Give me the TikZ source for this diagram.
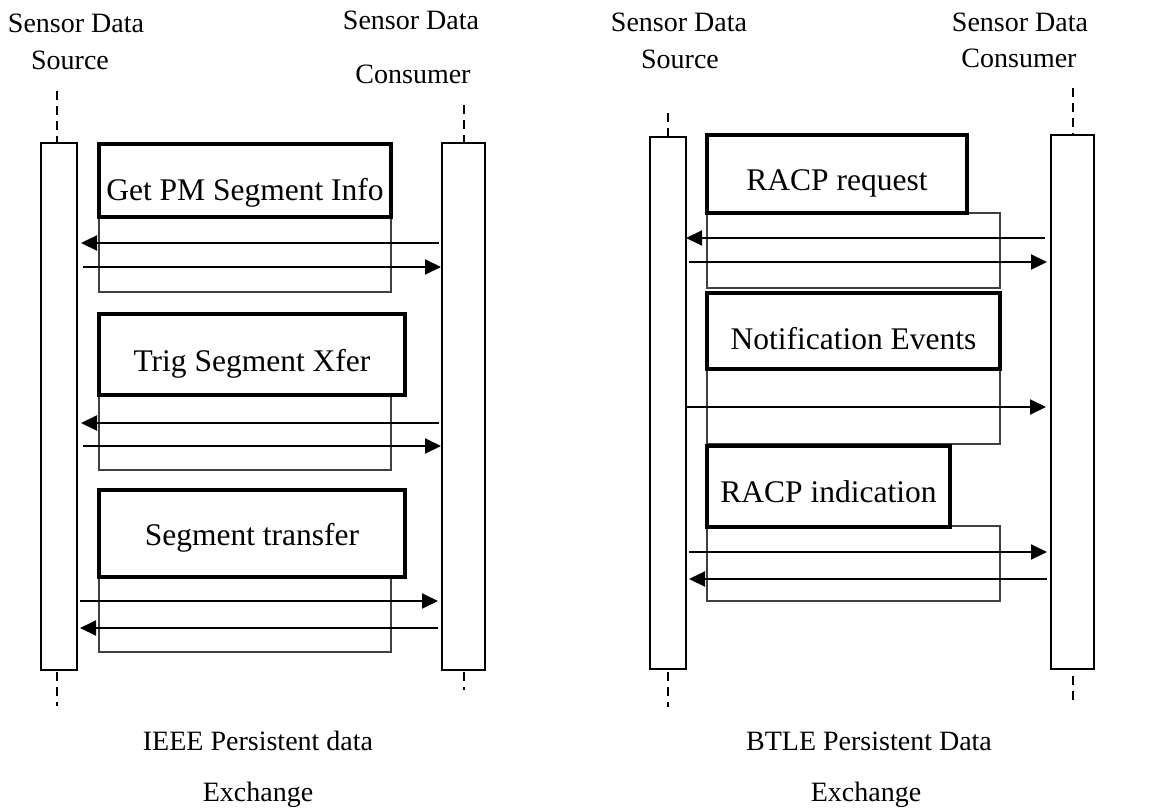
\documentclass[tikz,border=0pt]{standalone}
\usepackage{fontspec}
\setmainfont{Liberation Serif}
\usetikzlibrary{arrows.meta,calc}
\begin{document}
\begin{tikzpicture}[x=1pt,y=-1pt,
  bar/.style={draw, line width=1.8pt, inner sep=0pt, outer sep=0pt},
  life/.style={line width=1.8pt, dash pattern=on 9pt off 6pt},
  opbox/.style={draw, line width=3.2pt, inner sep=0pt, outer sep=0pt, anchor=north west},
  frame/.style={draw=black!75, line width=1.2pt},
  msg/.style={line width=2pt, -{Triangle[length=16pt,width=15pt]}},
  lbl/.style={font=\fontsize{28}{34}\selectfont, inner sep=0pt, anchor=base},
  optext/.style={font=\fontsize{31.5}{36}\selectfont, inner sep=0pt, anchor=base}]
\useasboundingbox (0,0) rectangle (1167,808);

% ---------------- IEEE (left) ----------------
\node[lbl] (tA1) at (76,33) {Sensor Data};
\node[lbl] (tA2) at (70,70) {Source};
\node[lbl] (tA3) at (411,30) {Sensor Data};
\node[lbl] (tA4) at (413,83) {Consumer};

\node[bar, minimum width=36pt, minimum height=527pt] (srcA) at (59,406.5) {};
\node[bar, minimum width=43pt, minimum height=527pt] (conA) at (463.5,406.5) {};
\draw[life] (57,91) -- (57,143);
\draw[life] (57,672) -- (57,706);
\draw[life] (464,105) -- (464,143);
\draw[life] (464,672) -- (464,690);

% op 1
\draw[frame] (99,217) rectangle (391,292);
\node[opbox, minimum width=292pt, minimum height=73pt] (opA1) at (99,144) {};
\node[optext] (xA1) at (245,200) {Get PM Segment Info};
\draw[msg] ($(conA.west |- 0,243)+(-3,0)$) -- ($(srcA.east |- 0,243)+(4,0)$);
\draw[msg] ($(srcA.east |- 0,267)+(6,0)$) -- ($(conA.west |- 0,267)+(-1,0)$);

% op 2
\draw[frame] (99,395) rectangle (391,470);
\node[opbox, minimum width=306pt, minimum height=81pt] (opA2) at (99,314) {};
\node[optext] (xA2) at (252,371) {Trig Segment Xfer};
\draw[msg] ($(conA.west |- 0,423)+(-3,0)$) -- ($(srcA.east |- 0,423)+(4,0)$);
\draw[msg] ($(srcA.east |- 0,446)+(6,0)$) -- ($(conA.west |- 0,446)+(-1,0)$);

% op 3
\draw[frame] (99,577) rectangle (391,652);
\node[opbox, minimum width=306pt, minimum height=87pt] (opA3) at (99,490) {};
\node[optext] (xA3) at (252,545) {Segment transfer};
\draw[msg] ($(srcA.east |- 0,601)+(3,0)$) -- ($(conA.west |- 0,601)+(-4,0)$);
\draw[msg] ($(conA.west |- 0,628)+(-4,0)$) -- ($(srcA.east |- 0,628)+(3,0)$);

\node[lbl] (bA1) at (258,750) {IEEE Persistent data};
\node[lbl] (bA2) at (258,801) {Exchange};

% ---------------- BTLE (right) ----------------
\node[lbl] (tB1) at (679,32) {Sensor Data};
\node[lbl] (tB2) at (680,68) {Source};
\node[lbl] (tB3) at (1020,32) {Sensor Data};
\node[lbl] (tB4) at (1019,67) {Consumer};

\node[bar, minimum width=36pt, minimum height=532pt] (srcB) at (668,403) {};
\node[bar, minimum width=43pt, minimum height=534pt] (conB) at (1072.5,402) {};
\draw[life] (668,113) -- (668,137);
\draw[life] (668,672) -- (668,707);
\draw[life] (1073,88) -- (1073,135);
\draw[life] (1073,676) -- (1073,705);

% op 1
\draw[frame] (707,213) rectangle (1000,288);
\node[opbox, minimum width=260pt, minimum height=78pt] (opB1) at (707,135) {};
\node[optext] (xB1) at (837,190) {RACP request};
\draw[msg] ($(conB.west |- 0,238)+(-6,0)$) -- ($(srcB.east |- 0,238)+(0,0)$);
\draw[msg] ($(srcB.east |- 0,262)+(3,0)$) -- ($(conB.west |- 0,262)+(-4,0)$);

% op 2
\draw[frame] (707,369) rectangle (1000,444);
\node[opbox, minimum width=293pt, minimum height=76pt] (opB2) at (707,293) {};
\node[optext] (xB2) at (853.5,349) {Notification Events};
\draw[msg] ($(srcB.east |- 0,407)+(1,0)$) -- ($(conB.west |- 0,407)+(-5,0)$);

% op 3
\draw[frame] (707,526) rectangle (1000,601);
\node[opbox, minimum width=243pt, minimum height=81pt] (opB3) at (707,446) {};
\node[optext] (xB3) at (828.5,502) {RACP indication};
\draw[msg] ($(srcB.east |- 0,552)+(3,0)$) -- ($(conB.west |- 0,552)+(-4,0)$);
\draw[msg] ($(conB.west |- 0,579)+(-4,0)$) -- ($(srcB.east |- 0,579)+(3,0)$);

\node[lbl] (bB1) at (869,750) {BTLE Persistent Data};
\node[lbl] (bB2) at (866,801) {Exchange};
\end{tikzpicture}
\end{document}
